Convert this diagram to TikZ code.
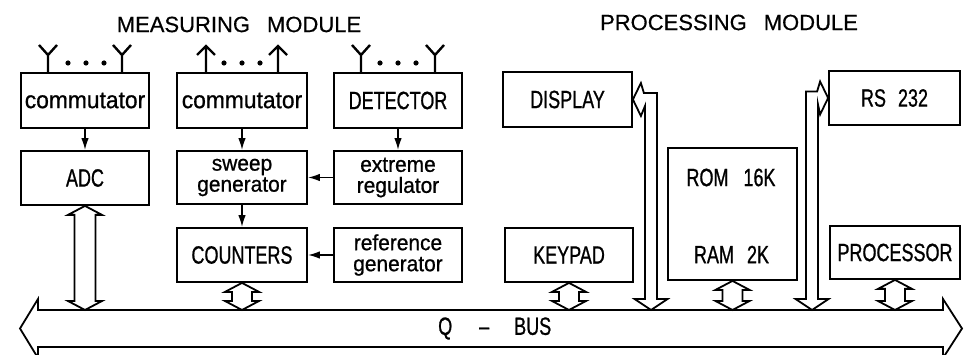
\documentclass[tikz,border=0pt]{standalone}
\usepackage{fontspec}
\setmainfont{Liberation Sans}
\newfontfamily\capsf{Liberation Sans}[FakeStretch=0.72,FakeBold=0.8]
\newfontfamily\lowf{Liberation Sans}[FakeStretch=0.95,FakeBold=0.8]
\newfontfamily\titlef{Liberation Sans}[FakeBold=0.5]
\usetikzlibrary{arrows.meta,calc}
\newcommand{\vdbl}[5]{%
  \draw[hollow] let \p1=#1, \p2=#2 in
  (\x1,\y1) -- (\x1+#3,\y1-#5) -- (\x1+#4,\y1-#5) -- (\x1+#4,\y2+#5) -- (\x1+#3,\y2+#5) -- (\x1,\y2)
  -- (\x1-#3,\y2+#5) -- (\x1-#4,\y2+#5) -- (\x1-#4,\y1-#5) -- (\x1-#3,\y1-#5) -- cycle;}
\begin{document}
\begin{tikzpicture}[x=1pt,y=-1pt,
  box/.style={draw,line width=1.8pt,inner sep=0pt,align=center},
  capt/.style={font=\capsf\fontsize{25}{30}\selectfont},
  lowt/.style={font=\lowf\fontsize{24}{28}\selectfont},
  twot/.style={font=\lowf\fontsize{22}{21}\selectfont},
  title/.style={font=\titlef\fontsize{22}{26}\selectfont,inner sep=0pt},
  sarrow/.style={line width=1.6pt,-{Latex[length=12pt,width=7.5pt]}},
  ant/.style={line width=2.4pt,line join=miter},
  hollow/.style={draw,line width=1.8pt,fill=white,line join=miter}]
\useasboundingbox (0,0) rectangle (966,355);
\fill[white] (0,0) rectangle (966,355);

% titles
\node[title] (mtitle) at (239,24.5) {MEASURING\hspace{17pt}MODULE};
\node[title] (ptitle) at (729,22.5) {PROCESSING\hspace{17pt}MODULE};

% measuring module
\node[box,lowt,minimum width=128,minimum height=55] (comA) at (85,100.5) {commutator};
\node[box,capt,minimum width=128,minimum height=54] (adc) at (85,178) {ADC};
\node[box,lowt,minimum width=130,minimum height=55] (comB) at (242,100.5) {commutator};
\node[box,twot,minimum width=130,minimum height=53] (sweep) at (242,177.5) {sweep\\generator};
\node[box,capt,minimum width=130,minimum height=54] (count) at (242,255) {COUNTERS};
\node[box,capt,minimum width=128,minimum height=55] (det) at (398,100.5) {DETECTOR};
\node[box,twot,minimum width=128,minimum height=53] (ext) at (398,177.5) {extreme\\regulator};
\node[box,twot,minimum width=128,minimum height=54] (ref) at (398,255) {reference\\generator};

% processing module
\node[box,capt,minimum width=129,minimum height=55] (disp) at (567.5,99.5) {DISPLAY};
\node[box,capt,minimum width=128,minimum height=54] (key) at (569,255) {KEYPAD};
\node[box,minimum width=129,minimum height=132] (mem) at (732.5,214) {};
\node[capt,inner sep=0pt] (rom) at (731,177.5) {ROM\hspace{15pt}16K};
\node[capt,inner sep=0pt] (ram) at (731.5,254.5) {RAM\hspace{13pt}2K};
\node[box,capt,minimum width=131,minimum height=54] (rs) at (894.5,98) {RS\hspace{12pt}232};
\node[box,capt,minimum width=130,minimum height=53] (proc) at (895,252.5) {PROCESSOR};

% small arrows
\draw[sarrow] (comA) -- (adc);
\draw[sarrow] (comB) -- (sweep);
\draw[sarrow] (sweep) -- (count);
\draw[sarrow] (det) -- (ext);
\draw[sarrow] (ext) -- (sweep);
\draw[sarrow] (ref) -- (count);

% antennas and outputs
\foreach \x in {48,122} \draw[ant] (\x,0 |- comA.north) -- (\x,55) (\x-9,45) -- (\x,55) -- (\x+9,45);
\foreach \x in {361,435} \draw[ant] (\x,0 |- det.north) -- (\x,55) (\x-9,45) -- (\x,55) -- (\x+9,45);
\foreach \x in {206,278} \draw[ant] (\x,0 |- comB.north) -- (\x,46) (\x-9,55) -- (\x,46) -- (\x+9,55);
\foreach \x in {68,86,104,224,242,260,380,398,416} \fill (\x,63) circle (2.6pt);

% bus
\coordinate (bustop) at (0,310);
\draw[hollow] (38,310) -- (943,310) -- (943,299) -- (962,328.5) -- (943,358) -- (943,347)
  -- (38,347) -- (38,358) -- (20,328.5) -- (38,299) -- cycle;
\node[capt,inner sep=0pt,anchor=west] (buslbl) at (438,328.5) {Q\hspace{27pt}–\hspace{25pt}BUS};

% hollow double arrows
\vdbl{(adc.south)}{(adc.south |- bustop)}{17pt}{10.5pt}{9pt}
\vdbl{(count.south)}{(count.south |- bustop)}{17pt}{10pt}{9pt}
\vdbl{(key.south)}{(key.south |- bustop)}{17pt}{10pt}{9pt}
\vdbl{(mem.south)}{(mem.south |- bustop)}{17pt}{10pt}{9pt}
\vdbl{(proc.south)}{(proc.south |- bustop)}{17pt}{10pt}{9pt}

% bent arrows to DISPLAY and RS 232
\coordinate (dispbus) at (651,310);
\draw[hollow] let \p1=(disp.east), \p2=(dispbus) in
 (\x1,\y1) -- (\x1+8pt,\y1+16.5pt) -- (\x1+11pt,\y1+6.5pt) -- (\x2+6pt,\y1+6.5pt)
 -- (\x2+6pt,\y2+11pt) -- (\x2+16.5pt,\y2+11pt) -- (\x2,\y2) -- (\x2-16.5pt,\y2+11pt)
 -- (\x2-6pt,\y2+11pt) -- (\x2-6pt,\y1-6.5pt) -- (\x1+8pt,\y1-16.5pt) -- cycle;
\coordinate (rsbus) at (812,310);
\draw[hollow] let \p1=(rs.west), \p2=(rsbus) in
 (\x1,\y1) -- (\x1-8pt,\y1+16.5pt) -- (\x1-11pt,\y1+6.5pt) -- (\x2-6pt,\y1+6.5pt)
 -- (\x2-6pt,\y2+11pt) -- (\x2-16.5pt,\y2+11pt) -- (\x2,\y2) -- (\x2+16.5pt,\y2+11pt)
 -- (\x2+6pt,\y2+11pt) -- (\x2+6pt,\y1-6.5pt) -- (\x1-8pt,\y1-16.5pt) -- cycle;
\end{tikzpicture}
\end{document}
